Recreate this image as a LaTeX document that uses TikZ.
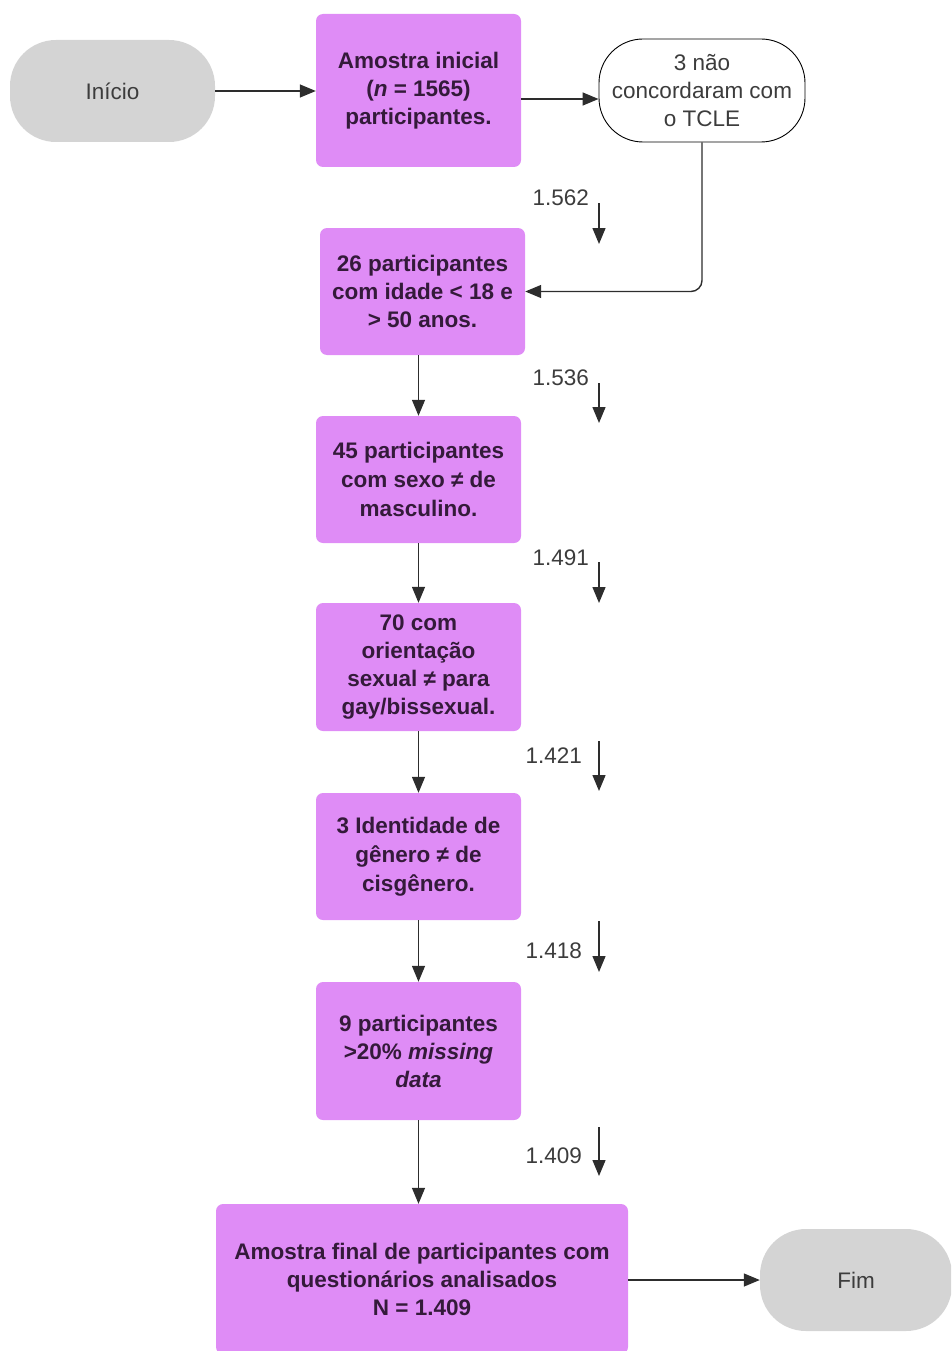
\documentclass[tikz,border=0pt]{standalone}
\usepackage{fontspec}
\setmainfont{Liberation Sans}
\usetikzlibrary{arrows.meta}
\definecolor{boxpurple}{RGB}{223,140,246}
\definecolor{boxtext}{RGB}{52,26,58}
\definecolor{termgray}{RGB}{212,212,212}
\definecolor{lblgray}{RGB}{60,60,60}
\definecolor{arrgray}{RGB}{45,45,45}
\tikzset{
  stepbox/.style={fill=boxpurple, rounded corners=7pt, align=center, text=boxtext,
    font=\fontsize{22.5}{28}\selectfont\bfseries, inner sep=0pt},
  term/.style={fill=termgray, rounded corners=46pt, align=center, text=lblgray,
    font=\fontsize{22.5}{28}\selectfont, minimum width=205pt, minimum height=102pt, inner sep=0pt},
  outbox/.style={draw=black, line width=0.9pt, fill=white, rounded corners=44pt, align=center,
    text=lblgray, font=\fontsize{22.5}{28}\selectfont, minimum width=206pt, minimum height=103pt, inner sep=0pt},
  arr/.style={draw=arrgray, line width=1.4pt, -{Triangle[length=16pt,width=13pt]}},
  cnt/.style={text=lblgray, font=\fontsize{22.5}{26}\selectfont, anchor=east, inner sep=0pt}
}
\begin{document}
\begin{tikzpicture}[x=1pt,y=-1pt]
\useasboundingbox (0,0) rectangle (951,1351);
\clip (0,0) rectangle (951,1351);
% nodes
\node[term] (inicio) at (112.5,91) {Início};
\node[stepbox, minimum width=205pt, minimum height=153pt] (amostra) at (418.5,90.5)
  {Amostra inicial\\(\textit{n} = 1565)\\participantes.};
\node[outbox] (tcle) at (702,90.5) {3 não\\concordaram com\\o TCLE};
\node[stepbox, minimum width=205pt, minimum height=127pt] (n26) at (422.5,291.5)
  {26 participantes\\com idade < 18 e\\> 50 anos.};
\node[stepbox, minimum width=205pt, minimum height=127pt] (n45) at (418.5,479.5)
  {45 participantes\\[1pt]com sexo ≠ de\\[1pt]masculino.};
\node[stepbox, minimum width=205pt, minimum height=128pt] (n70) at (418.5,667)
  {70 com\\orientação\\sexual ≠ para\\gay/bissexual.};
\node[stepbox, minimum width=205pt, minimum height=127pt] (n3) at (418.5,856.5)
  {3 Identidade de\\[1pt]gênero ≠ de\\[1pt]cisgênero.};
\node[stepbox, minimum width=205pt, minimum height=138pt] (n9) at (418.5,1051)
  {9 participantes\\>20\% \textit{missing}\\\textit{data}};
\node[stepbox, minimum width=412pt, minimum height=150pt] (final) at (422,1279)
  {Amostra final de participantes com\\questionários analisados\\N = 1.409};
\node[term, minimum width=192pt] (fim) at (856,1280) {Fim};
% connectors
\draw[arr] (inicio.east) -- (amostra.west |- inicio.east);
\draw[arr] ([yshift=-8.5pt]amostra.east) -- ([yshift=-8.5pt]tcle.west);
\draw[arr, rounded corners=11pt] (tcle.south) |- (n26.east);
\draw[arr] (n26.south -| n45.north) -- (n45.north);
\draw[arr] (n45.south) -- (n70.north);
\draw[arr] (n70.south) -- (n3.north);
\draw[arr] (n3.south) -- (n9.north);
\draw[arr] (n9.south) -- (n9.south |- final.north);
\draw[arr] (final.east |- fim.west) -- (fim.west);
% side counts
\coordinate (a1) at (599,203); \coordinate (b1) at (599,244);
\coordinate (a2) at (599,383); \coordinate (b2) at (599,423);
\coordinate (a3) at (599,562); \coordinate (b3) at (599,603);
\coordinate (a4) at (599,741); \coordinate (b4) at (599,791);
\coordinate (a5) at (599,921); \coordinate (b5) at (599,972);
\coordinate (a6) at (599,1127); \coordinate (b6) at (599,1176);
\draw[arr] (a1) -- (b1); \node[cnt] (l1) at (589,198) {1.562};
\draw[arr] (a2) -- (b2); \node[cnt] (l2) at (589,378) {1.536};
\draw[arr] (a3) -- (b3); \node[cnt] (l3) at (589,558) {1.491};
\draw[arr] (a4) -- (b4); \node[cnt] (l4) at (582,756) {1.421};
\draw[arr] (a5) -- (b5); \node[cnt] (l5) at (582,951) {1.418};
\draw[arr] (a6) -- (b6); \node[cnt] (l6) at (582,1156) {1.409};
\end{tikzpicture}
\end{document}
